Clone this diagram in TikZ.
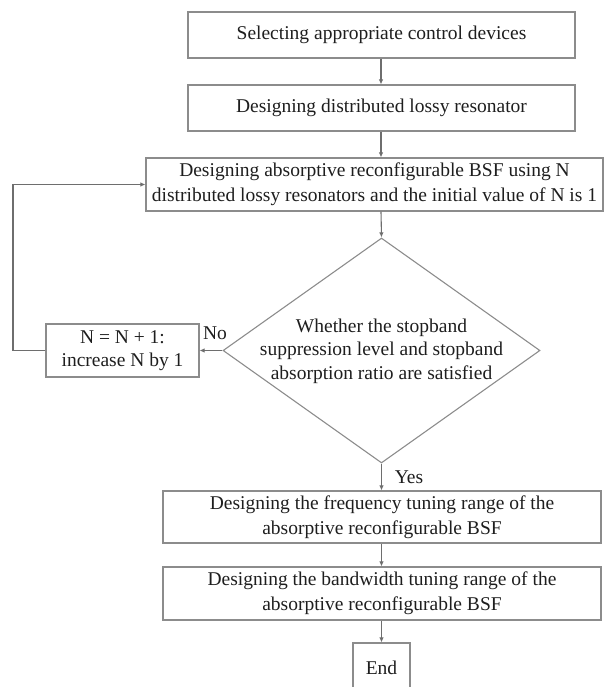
\documentclass[tikz,border=0pt]{standalone}
\usepackage{fontspec}
\setmainfont{Liberation Serif}
\usetikzlibrary{shapes.geometric,arrows.meta}
\definecolor{edgegray}{HTML}{8C8C8C}
\definecolor{linegray}{HTML}{6E6E6E}
\definecolor{txt}{HTML}{1E1E1E}
\tikzset{
  box/.style={draw=edgegray, line width=1.1pt, rectangle, inner sep=0pt, align=center, text=txt,
    font=\fontsize{19.5}{25}\selectfont},
  decision/.style={draw=edgegray, line width=1.1pt, diamond, inner sep=0pt},
  plain/.style={inner sep=0pt, align=center, text=txt, font=\fontsize{19.5}{23.5}\selectfont},
  arrow/.style={draw=linegray, line width=1.1pt, -{Latex[length=5pt,width=4.5pt]}}
}
\begin{document}
\begin{tikzpicture}[x=1pt,y=-1pt]
\useasboundingbox (0,0) rectangle (612,687);
\clip (0,0) rectangle (612,687);
\node[box, minimum width=387pt, minimum height=46pt] (b1) at (381.5,35) {Selecting appropriate control devices};
\node[box, minimum width=387pt, minimum height=46pt] (b2) at (381.5,108) {Designing distributed lossy resonator};
\node[box, minimum width=457pt, minimum height=53pt] (b3) at (374.5,184.5) {Designing absorptive reconfigurable BSF using N\\distributed lossy resonators and the initial value of N is 1};
\node[decision, minimum width=317pt, minimum height=225pt] (dec) at (381.5,350.5) {};
\node[plain] (dectext) at (381.5,351) {Whether the stopband\\suppression level and stopband\\absorption ratio are satisfied};
\node[box, minimum width=153pt, minimum height=53pt, font=\fontsize{19.5}{23}\selectfont] (bn) at (122.5,350.5) {N = N + 1:\\increase N by 1};
\node[box, minimum width=438pt, minimum height=52pt] (b4) at (382,517) {Designing the frequency tuning range of the\\absorptive reconfigurable BSF};
\node[box, minimum width=438pt, minimum height=53pt] (b5) at (382,593.5) {Designing the bandwidth tuning range of the\\absorptive reconfigurable BSF};
\node[box, minimum width=57pt, minimum height=50pt] (end) at (381.5,668) {End};
\node[plain] (no) at (215,333) {No};
\node[plain] (yes) at (409,477) {Yes};
\coordinate (loop) at (13,350.5);
\draw[arrow] (b1.south -| 381,0) -- (b2.north -| 381,0);
\draw[arrow] (b2.south -| 381,0) -- (b3.north -| 381,0);
\draw[arrow] (b3.south -| 381,0) -- (dec.north);
\draw[arrow] (dec.south) -- (b4.north -| dec.south);
\draw[arrow] (b4.south -| dec.south) -- (b5.north -| dec.south);
\draw[arrow] (b5.south -| dec.south) -- (end.north);
\draw[arrow] (dec.west) -- (bn.east);
\draw[arrow] (bn.west) -- (loop) |- (b3.west);
\end{tikzpicture}
\end{document}
